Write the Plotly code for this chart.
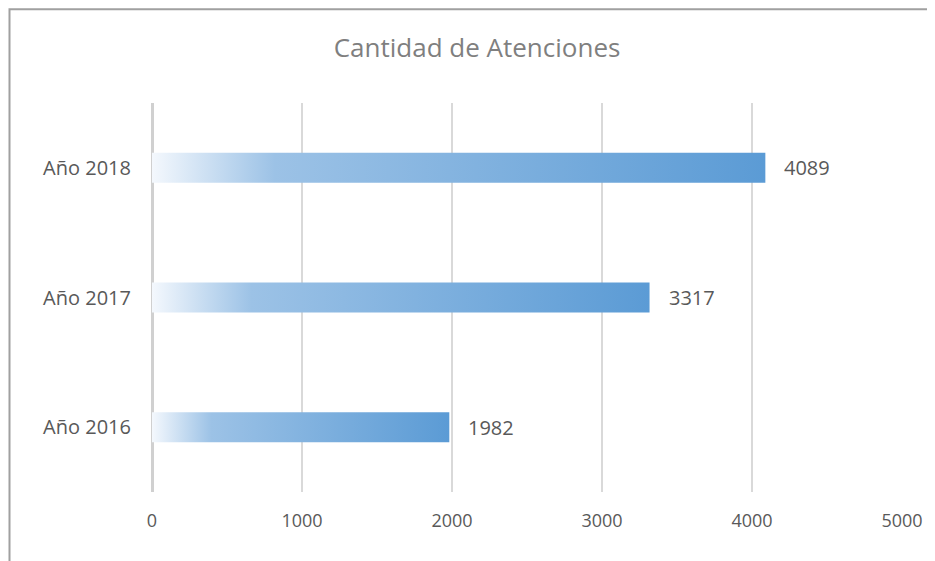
import plotly.graph_objects as go

categorias = ["Año 2016", "Año 2017", "Año 2018"]
atenciones = [1982, 3317, 4089]
ticks_x = [0, 1000, 2000, 3000, 4000, 5000]

medio = 0.116  # media altura de la barra (en unidades de categoria)
fuente = "Open Sans"
gris = "#595959"

fig = go.Figure()

for i, (cat, valor) in enumerate(zip(categorias, atenciones)):
    fig.add_trace(
        go.Scatter(
            x=[0, valor, valor, 0, 0],
            y=[i - medio, i - medio, i + medio, i + medio, i - medio],
            mode="lines",
            line=dict(width=0),
            fill="toself",
            fillgradient=dict(
                type="horizontal",
                colorscale=[
                    [0.0, "#f4f8fd"],
                    [0.2, "#9cc2e6"],
                    [1.0, "#5b9bd5"],
                ],
            ),
            hoverinfo="skip",
            showlegend=False,
            name=cat,
        )
    )
    fig.add_annotation(
        x=valor,
        y=i,
        text=str(valor),
        showarrow=False,
        xanchor="left",
        xshift=17,
        font=dict(family=fuente, size=20, color=gris),
    )

# la pagina ya tiene 8px de margen en el body, se compensa aqui
fig.update_layout(
    width=927,
    height=553,
    margin=dict(l=144, r=30, t=95, b=69),
    paper_bgcolor="white",
    plot_bgcolor="white",
    title=dict(
        text="Cantidad de Atenciones",
        x=0.506,
        xanchor="center",
        y=0.928,
        yanchor="middle",
        font=dict(family=fuente, size=26, color="#7f7f7f"),
    ),
    xaxis=dict(
        range=[0, 5000],
        tickvals=ticks_x,
        showgrid=True,
        gridcolor="#d9d9d9",
        gridwidth=2,
        zeroline=True,
        zerolinecolor="#d0d0d0",
        zerolinewidth=3,
        showline=False,
        ticks="",
        tickfont=dict(family=fuente, size=18, color=gris),
        ticklabelstandoff=16,
    ),
    yaxis=dict(
        range=[-0.5, 2.5],
        tickvals=list(range(len(categorias))),
        ticktext=categorias,
        showgrid=False,
        zeroline=False,
        ticks="",
        tickfont=dict(family=fuente, size=20, color=gris),
        ticklabelstandoff=20,
    ),
    shapes=[
        dict(
            type="rect",
            xref="paper",
            yref="paper",
            x0=-0.19,
            x1=1.3,
            y0=-0.3,
            y1=1.241,
            line=dict(color="#a0a0a0", width=2),
            layer="below",
        )
    ],
)

fig.write_html("out.html")
